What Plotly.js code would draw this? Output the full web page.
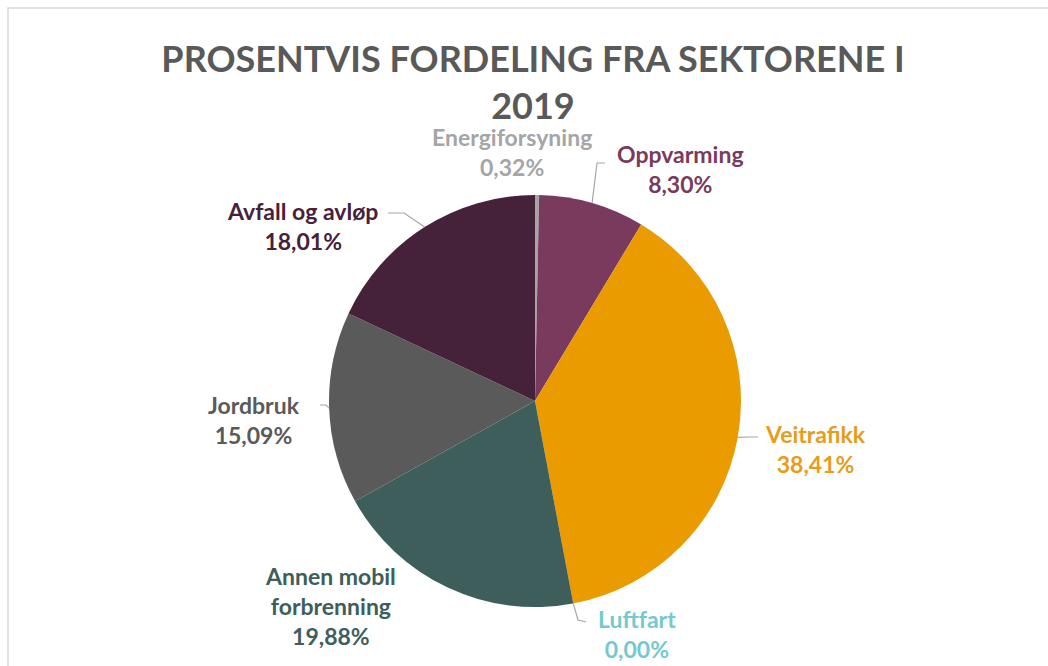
<!DOCTYPE html>
<html>
<head>
<meta charset="utf-8">
<script src="https://cdn.plot.ly/plotly-3.0.1.min.js"></script>
<style>html,body{margin:0;padding:0;background:#fff;}#chart{width:1048px;height:666px;}</style>
</head>
<body>
<div id="chart"></div>
<script>
// ---- data ----
const sectors = ["Energiforsyning", "Oppvarming", "Veitrafikk", "Luftfart", "Annen mobil forbrenning", "Jordbruk", "Avfall og avløp"];
const labelLines = ["Energiforsyning", "Oppvarming", "Veitrafikk", "Luftfart", "Annen mobil<br>forbrenning", "Jordbruk", "Avfall og avløp"];
const percentages = [0.32, 8.30, 38.41, 0.00, 19.88, 15.09, 18.01];
const sliceColors = ["#a5a5a5", "#7a3a5e", "#e99b00", "#5cc2ca", "#3d5e5b", "#5a5a5a", "#46223a"];
const labelColors = ["#a5a5a5", "#7a3a5e", "#e89c1c", "#74c9cf", "#3d5e5b", "#5a5a5a", "#46223a"];
const titleText = "PROSENTVIS FORDELING FRA SEKTORENE I<br>2019";

// ---- layout constants (pixels) ----
const W = 1048, H = 666;
const cx = 535, cy = 401, R = 206;
// label block centre positions and leader-line elbow (style/placement)
const labelPos = [
  {x: 512, y: 152, leader: false},
  {x: 680, y: 169, leader: true, elbow: [597, 163], end: [605, 163]},
  {x: 815, y: 449, leader: true, elbow: [748, 437], end: [758, 437]},
  {x: 637, y: 634, leader: true, elbow: [578, 620], end: [586, 622]},
  {x: 330, y: 606, leader: false},
  {x: 254, y: 420, leader: true, elbow: [326, 405], end: [320, 405]},
  {x: 302, y: 226, leader: true, elbow: [404, 213], end: [388, 213]}
];

const fmt = v => v.toFixed(2).replace('.', ',') + '%';
const px = x => x / W;
const py = y => 1 - y / H;

const total = percentages.reduce((a, b) => a + b, 0);
let cum = 0;
const annotations = [];
const shapes = [];
percentages.forEach((v, i) => {
  const mid = (cum + v / 2) / total * 2 * Math.PI;
  cum += v;
  const ax = cx + R * Math.sin(mid);
  const ay = cy - R * Math.cos(mid);
  const p = labelPos[i];
  annotations.push({
    xref: 'paper', yref: 'paper', x: px(p.x), y: py(p.y),
    xanchor: 'center', yanchor: 'middle', showarrow: false,
    text: '<b>' + labelLines[i] + '<br>' + fmt(v) + '</b>',
    font: {family: 'Lato, "Open Sans", sans-serif', size: 23, color: labelColors[i]},
    align: 'center'
  });
  if (p.leader) {
    shapes.push({
      type: 'path', xref: 'paper', yref: 'paper',
      path: `M ${px(ax)} ${py(ay)} L ${px(p.elbow[0])} ${py(p.elbow[1])} L ${px(p.end[0])} ${py(p.end[1])}`,
      line: {color: '#a6a6a6', width: 1.2}
    });
  }
});

// frame
shapes.push({
  type: 'rect', xref: 'paper', yref: 'paper',
  x0: px(8), x1: px(W + 20), y0: py(H + 20), y1: py(8),
  line: {color: '#d9d9d9', width: 1.5}, fillcolor: 'rgba(0,0,0,0)', layer: 'below'
});

const trace = {
  type: 'pie',
  labels: sectors,
  values: percentages,
  sort: false,
  direction: 'clockwise',
  rotation: 0,
  textinfo: 'none',
  hoverinfo: 'label+percent',
  marker: {colors: sliceColors, line: {width: 0}},
  domain: {x: [px(cx - R), px(cx + R)], y: [py(cy + R), py(cy - R)]},
  showlegend: false
};

const layout = {
  width: W, height: H,
  margin: {l: 0, r: 0, t: 0, b: 0},
  paper_bgcolor: '#ffffff',
  title: {
    text: '<b>' + titleText + '</b>',
    x: px(533), xanchor: 'center',
    y: py(72), yanchor: 'middle',
    font: {family: 'Lato, "Open Sans", sans-serif', size: 36, color: '#595959'}
  },
  annotations: annotations,
  shapes: shapes,
  showlegend: false
};

Plotly.newPlot('chart', [trace], layout, {displayModeBar: false, staticPlot: true});
</script>
</body>
</html>
